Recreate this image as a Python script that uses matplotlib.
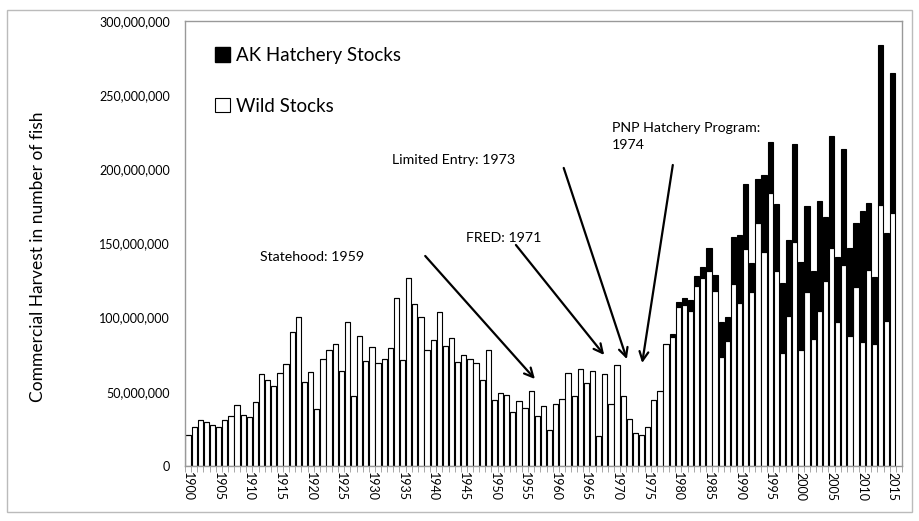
import numpy as np
import matplotlib
matplotlib.use('Agg')
import matplotlib.pyplot as plt
from matplotlib.patches import Patch, Rectangle
from matplotlib.ticker import FuncFormatter

# Alaska salmon commercial harvest (millions of fish), 1900-2015
years = list(range(1900, 2016))

wild_stocks = [
    21.0, 26.3, 31.2, 29.4, 27.7, 26.3, 30.8, 33.8, 41.4, 34.1,
    32.7, 43.4, 62.2, 58.2, 53.8, 62.8, 68.8, 90.3, 100.7, 56.6,
    63.5, 38.2, 72.1, 77.9, 82.0, 64.0, 96.8, 47.2, 87.6, 71.0,
    80.0, 69.2, 71.9, 79.3, 113.2, 71.4, 126.5, 108.9, 100.6, 78.2,
    84.7, 103.5, 80.6, 86.5, 70.1, 74.8, 72.3, 69.6, 58.0, 78.2,
    44.5, 49.0, 47.6, 36.6, 44.0, 39.3, 50.3, 33.9, 40.7, 24.5,
    42.0, 44.9, 62.4, 47.2, 65.6, 56.2, 63.8, 20.4, 62.0, 41.6,
    68.1, 47.2, 31.7, 22.0, 21.1, 26.1, 44.5, 50.8, 82.0, 87.2,
    107.4, 108.5, 104.7, 121.6, 126.6, 131.1, 117.9, 73.7, 84.2, 122.4,
    109.6, 146.5, 117.3, 164.0, 144.2, 184.2, 131.6, 76.4, 101.1, 151.0,
    78.2, 117.5, 85.6, 104.7, 124.9, 146.7, 97.3, 135.4, 87.8, 120.6,
    83.3, 131.8, 82.2, 175.9, 97.9, 170.7,
]

hatchery_stocks = [0.0] * 78 + [
    0.5, 1.5,
    3.3, 4.9, 6.9, 6.6, 7.3, 15.7, 11.1, 23.1, 16.4, 32.1,
    46.1, 43.5, 19.7, 29.6, 51.9, 34.4, 44.9, 47.1, 51.0, 66.2,
    59.5, 57.9, 46.0, 73.9, 43.1, 75.9, 43.3, 78.2, 58.9, 42.9,
    88.8, 45.2, 44.9, 107.8, 58.9, 93.9,
]

# (label, text position [year, millions], arrow start, arrow tip)
events = [
    ('Statehood: 1959', (1911.7, 140.8), (1938.7, 141.5), (1956.6, 58.6)),
    ('FRED: 1971', (1945.4, 153.6), (1953.5, 148.9), (1967.9, 74.8)),
    ('Limited Entry: 1973', (1933.3, 206.2), (1961.3, 200.8), (1971.6, 72.0)),
    ('PNP Hatchery Program:\n1974', (1969.1, 221.9), (1979.1, 202.8), (1974.1, 69.4)),
]


def main():
    plt.rcParams['font.family'] = ['Lato', 'DejaVu Sans']

    W, H = 919, 521
    fig = plt.figure(figsize=(W / 100, H / 100), dpi=100)
    ax = fig.add_axes([185 / W, 1 - 466 / H, (902 - 185) / W, (466 - 20.7) / H])

    wild = np.array(wild_stocks) * 1e6
    hatch = np.array(hatchery_stocks) * 1e6

    ax.bar(years, wild, width=0.86, color='white', edgecolor='black',
           linewidth=0.8, label='Wild Stocks')
    ax.bar(years, hatch, width=0.86, bottom=wild, color='black',
           edgecolor='black', linewidth=0.8, label='AK Hatchery Stocks')

    ax.set_xlim(1899.5, 2016.5)
    ax.set_ylim(0, 300e6)
    ax.set_yticks(np.arange(0, 300e6 + 1, 50e6))
    ax.yaxis.set_major_formatter(FuncFormatter(lambda v, p: f'{int(v):,}'))
    ax.set_xticks(range(1900, 2016, 5))
    ax.set_xticklabels([str(y) for y in range(1900, 2016, 5)], rotation=270)
    ax.set_xticks(np.arange(1899.5, 2017, 1), minor=True)

    ax.tick_params(axis='x', which='major', length=0, labelsize=9, pad=4)
    ax.tick_params(axis='x', which='minor', length=4, color='#999999')
    ax.tick_params(axis='y', length=0, labelsize=9, pad=11)
    for s in ax.spines.values():
        s.set_color('#999999')
        s.set_linewidth(1)

    fig.text(38 / W, 1 - 257 / H, 'Commercial Harvest in number of fish',
             rotation=90, ha='center', va='center', fontsize=12.5)

    # Legend: hatchery first, wild second
    handles = [Patch(facecolor='black', edgecolor='black'),
               Patch(facecolor='white', edgecolor='black', linewidth=0.8)]
    ax.legend(handles, ['AK Hatchery Stocks', 'Wild Stocks'], loc='upper left',
              bbox_to_anchor=((215 - 185) / (902 - 185), 1 - (47 - 20.7) / (466 - 20.7)),
              frameon=False, fontsize=13.5, handlelength=0.8, handleheight=0.8,
              handletextpad=0.3, labelspacing=1.8, borderpad=0, borderaxespad=0)

    for label, txt, start, tip in events:
        ax.text(txt[0], txt[1] * 1e6, label, fontsize=10.2, ha='left', va='center',
                linespacing=1.5)
        ax.annotate('', xy=(tip[0], tip[1] * 1e6), xytext=(start[0], start[1] * 1e6),
                    arrowprops=dict(arrowstyle='->', color='black', lw=1.6,
                                    mutation_scale=16, shrinkA=0, shrinkB=0))

    # outer chart frame
    fig.add_artist(Rectangle((7 / W, 1 - 512 / H), 905 / W, 502 / H,
                             transform=fig.transFigure, fill=False,
                             edgecolor='#bbbbbb', linewidth=1))

    plt.savefig('out.png', dpi=100)


if __name__ == "__main__":
    main()
